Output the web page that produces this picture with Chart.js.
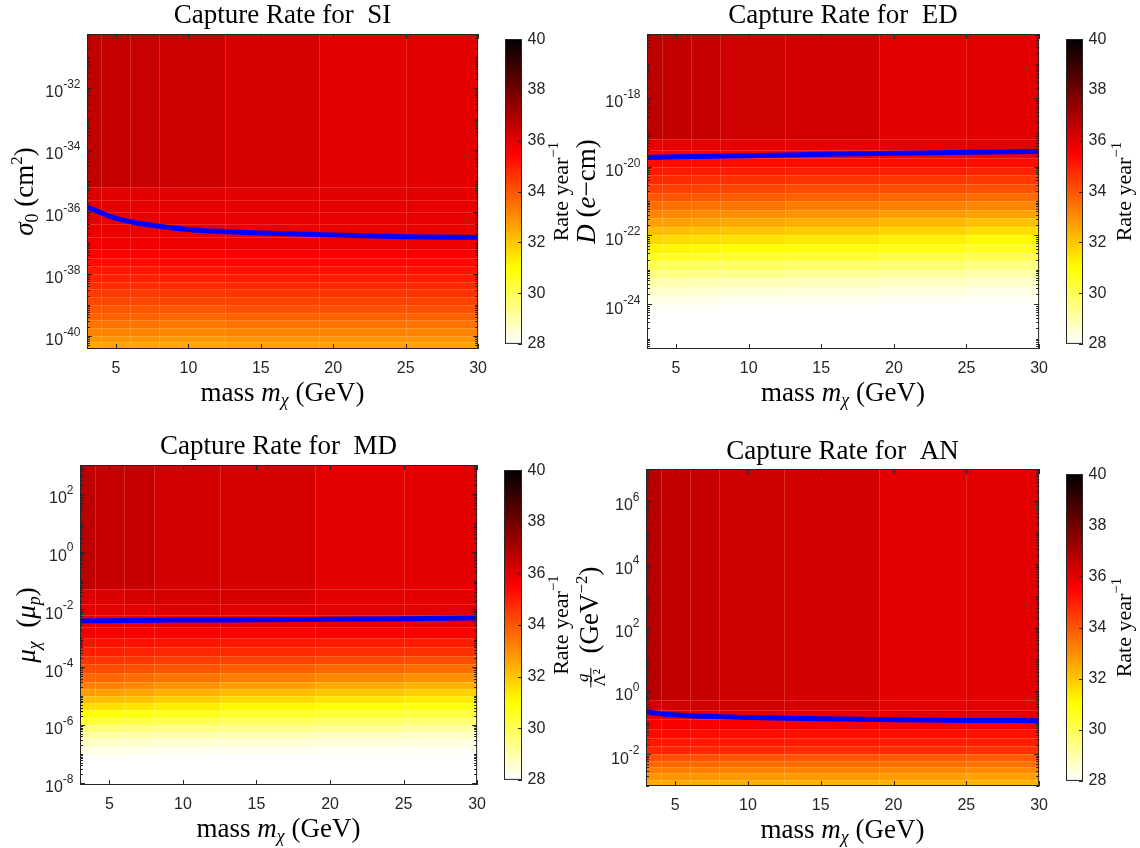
<!DOCTYPE html>
<html>
<head>
<meta charset="utf-8">
<script src="https://cdn.jsdelivr.net/npm/chart.js"></script>
<style>
  html, body { margin: 0; padding: 0; background: #fff; }
  #wrap { position: relative; width: 1140px; height: 848px; overflow: hidden; }
  canvas { position: absolute; }
</style>
</head>
<body>
<div id="wrap"></div>
<script>
// ---- data ----
// column edges of the rate grid (GeV) and x ticks
const massEdges = [3, 4, 6, 8, 12.5, 19, 25, 30];
const xTicks = [5, 10, 15, 20, 25, 30];
const cbTicks = [28, 30, 32, 34, 36, 38, 40];

// SI : sigma_0 (cm^2), row edges as log10, rates per row (top -> bottom)
const siRange = [-40.42, -30.26];
const siYTicks = [-40, -38, -36, -34, -32];
const siEdges = [-30.26, -35.2, -35.6, -36.0, -36.4, -36.8, -37.2, -37.5, -37.75, -38.0, -38.25,
                 -38.5, -38.75, -39.0, -39.25, -39.5, -39.75, -40.0, -40.2, -40.42];
const siRate = [
  [36.6, 36.5, 36.45, 36.38, 36.2, 35.97, 35.97],
  [36.1, 36.0, 36.0, 36.0, 36.0, 35.97, 35.96],
  [35.98, 35.95, 35.95, 35.95, 35.95, 35.95, 35.94],
  [35.9, 35.9, 35.9, 35.9, 35.92, 35.92, 35.92],
  [35.85, 35.85, 35.85, 35.85, 35.85, 35.86, 35.86],
  [35.75, 35.75, 35.75, 35.78, 35.8, 35.8, 35.8],
  [35.5, 35.5, 35.5, 35.55, 35.6, 35.6, 35.6],
  [35.3, 35.3, 35.3, 35.35, 35.4, 35.4, 35.4],
  [35.1, 35.1, 35.1, 35.15, 35.2, 35.2, 35.2],
  [34.9, 34.9, 34.9, 34.95, 35.0, 35.0, 35.0],
  [34.7, 34.7, 34.7, 34.75, 34.8, 34.8, 34.8],
  [34.5, 34.5, 34.5, 34.55, 34.6, 34.6, 34.6],
  [34.3, 34.3, 34.3, 34.3, 34.35, 34.35, 34.35],
  [34.0, 34.0, 34.0, 34.0, 34.1, 34.1, 34.1],
  [33.75, 33.75, 33.75, 33.7, 33.8, 33.8, 33.8],
  [33.45, 33.45, 33.45, 33.4, 33.5, 33.5, 33.5],
  [33.15, 33.15, 33.15, 33.1, 33.2, 33.2, 33.2],
  [32.85, 32.85, 32.85, 32.8, 32.9, 32.9, 32.9],
  [32.6, 32.6, 32.6, 32.55, 32.65, 32.65, 32.65]
];
const siLineMass = [3, 5, 7, 10, 15, 20, 25, 30];
const siLine = [1.45e-36, 6.2e-37, 4.0e-37, 2.7e-37, 2.1e-37, 1.8e-37, 1.6e-37, 1.5e-37];

// ED : D (e-cm)
const edRange = [-25.27, -16.14];
const edYTicks = [-24, -22, -20, -18];
const edEdges = [-16.14, -19.2, -19.5, -19.75, -20.0, -20.25, -20.5, -20.75, -21.0, -21.25, -21.5,
                 -21.75, -22.0, -22.25, -22.5, -22.75, -23.0, -23.25, -23.5, -23.75, -24.0, -24.25, -25.27];
const edRate = [
  [36.68, 36.52, 36.5, 36.35, 36.33, 35.97, 35.97],
  [35.9, 35.9, 35.9, 35.9, 35.9, 35.95, 35.95],
  [35.55, 35.55, 35.6, 35.6, 35.65, 35.65, 35.7],
  [35.3, 35.3, 35.3, 35.3, 35.3, 35.3, 35.3],
  [35.05, 35.05, 35.0, 35.0, 34.95, 34.95, 34.9],
  [34.75, 34.75, 34.7, 34.65, 34.6, 34.55, 34.5],
  [34.4, 34.4, 34.35, 34.3, 34.2, 34.15, 34.1],
  [34.0, 34.0, 33.95, 33.9, 33.8, 33.7, 33.65],
  [33.6, 33.55, 33.5, 33.45, 33.35, 33.25, 33.15],
  [33.15, 33.1, 33.05, 33.0, 32.9, 32.75, 32.65],
  [32.7, 32.65, 32.6, 32.5, 32.4, 32.25, 32.1],
  [32.2, 32.15, 32.1, 32.0, 31.9, 31.75, 31.6],
  [31.7, 31.65, 31.6, 31.5, 31.4, 31.25, 31.1],
  [31.2, 31.15, 31.1, 31.0, 30.9, 30.75, 30.6],
  [30.6, 30.55, 30.5, 30.45, 30.35, 30.2, 30.05],
  [30.0, 29.95, 29.9, 29.85, 29.75, 29.65, 29.5],
  [29.5, 29.45, 29.4, 29.35, 29.25, 29.15, 29.0],
  [29.0, 28.95, 28.9, 28.85, 28.8, 28.7, 28.6],
  [28.6, 28.6, 28.55, 28.5, 28.45, 28.4, 28.3],
  [28.3, 28.3, 28.25, 28.2, 28.2, 28.15, 28.1],
  [28.1, 28.1, 28.1, 28.05, 28.05, 28.0, 28.0],
  [28.0, 28.0, 28.0, 28.0, 28.0, 28.0, 28.0]
];
const edLineMass = [3, 5, 10, 15, 20, 25, 30];
const edLine = [1.86e-20, 1.95e-20, 2.09e-20, 2.29e-20, 2.45e-20, 2.63e-20, 2.75e-20];

// MD : mu_chi (mu_p)
const mdRange = [-8.08, 3];
const mdYTicks = [-8, -6, -4, -2, 0, 2];
const mdEdges = [3, -1.3, -1.8, -2.2, -2.6, -3.0, -3.3, -3.6, -3.9, -4.2, -4.5, -4.75, -5.0,
                 -5.25, -5.5, -5.75, -6.0, -6.25, -6.5, -6.75, -7.0, -7.25, -8.08];
const mdRate = [
  [36.68, 36.5, 36.5, 36.3, 36.25, 35.98, 35.98],
  [36.1, 36.1, 36.2, 36.25, 36.2, 35.98, 35.98],
  [35.95, 35.95, 36.0, 36.1, 36.05, 35.95, 35.95],
  [35.85, 35.85, 35.85, 35.85, 35.85, 35.85, 35.85],
  [35.6, 35.6, 35.6, 35.55, 35.55, 35.55, 35.5],
  [35.2, 35.2, 35.2, 35.15, 35.1, 35.05, 35.0],
  [34.95, 34.95, 34.9, 34.85, 34.8, 34.7, 34.65],
  [34.6, 34.6, 34.55, 34.45, 34.35, 34.25, 34.15],
  [34.2, 34.2, 34.1, 34.0, 33.85, 33.7, 33.6],
  [33.7, 33.7, 33.6, 33.45, 33.3, 33.1, 33.0],
  [33.2, 33.2, 33.1, 32.9, 32.7, 32.5, 32.35],
  [32.75, 32.7, 32.6, 32.4, 32.2, 32.0, 31.85],
  [32.2, 32.15, 32.05, 31.85, 31.65, 31.45, 31.3],
  [31.6, 31.55, 31.45, 31.3, 31.1, 30.9, 30.8],
  [30.95, 30.9, 30.8, 30.65, 30.5, 30.35, 30.25],
  [30.3, 30.25, 30.15, 30.05, 29.9, 29.8, 29.7],
  [29.65, 29.6, 29.55, 29.45, 29.35, 29.25, 29.15],
  [29.1, 29.05, 29.0, 28.95, 28.85, 28.75, 28.7],
  [28.65, 28.6, 28.55, 28.5, 28.45, 28.4, 28.35],
  [28.3, 28.3, 28.25, 28.2, 28.2, 28.15, 28.1],
  [28.1, 28.1, 28.05, 28.05, 28.0, 28.0, 28.0],
  [28.0, 28.0, 28.0, 28.0, 28.0, 28.0, 28.0]
];
const mdLineMass = [3, 5, 10, 15, 20, 25, 30];
const mdLine = [3.98e-3, 4.07e-3, 4.27e-3, 4.37e-3, 4.57e-3, 4.79e-3, 5.01e-3];

// AN : g / Lambda^2 (GeV^-2)
const anRange = [-3, 7];
const anYTicks = [-2, 0, 2, 4, 6];
const anEdges = [7, -0.3, -0.6, -0.9, -1.2, -1.5, -1.75, -2.0, -2.2, -2.4, -2.6, -2.8, -3.0];
const anRate = [
  [36.74, 36.56, 36.5, 36.38, 36.29, 35.98, 35.98],
  [36.3, 36.3, 36.3, 36.3, 36.25, 35.98, 35.98],
  [35.95, 35.95, 35.95, 35.95, 35.95, 35.95, 35.95],
  [35.6, 35.6, 35.6, 35.6, 35.6, 35.55, 35.55],
  [35.35, 35.35, 35.3, 35.3, 35.25, 35.25, 35.2],
  [35.1, 35.1, 35.05, 35.05, 35.0, 34.95, 34.95],
  [34.85, 34.85, 34.8, 34.75, 34.7, 34.7, 34.65],
  [34.1, 34.1, 34.05, 34.0, 34.0, 33.95, 33.9],
  [33.7, 33.7, 33.65, 33.6, 33.6, 33.55, 33.5],
  [33.3, 33.3, 33.25, 33.2, 33.2, 33.15, 33.1],
  [32.9, 32.9, 32.85, 32.8, 32.8, 32.75, 32.7],
  [32.5, 32.5, 32.45, 32.45, 32.4, 32.4, 32.35]
];
const anLineMass = [3, 4, 5, 7, 10, 15, 20, 25, 30];
const anLine = [0.219, 0.191, 0.174, 0.158, 0.145, 0.132, 0.123, 0.117, 0.115];

// colormap anchors (flipped "hot"): rate -> colour
const cmapVals = [28, 31, 35.5, 40];
const cmapRGB = [[255, 255, 255], [255, 255, 0], [255, 0, 0], [0, 0, 0]];

// ---- styling / layout ----
const SERIF = '"Liberation Serif", "Times New Roman", serif';
const SANS = '"Liberation Sans", Arial, Helvetica, sans-serif';
const INK = '#262626';
const BIG = 27;

const xTitle = [{t: 'mass '}, {t: 'm', it: true}, {t: 'χ', it: true, s: 18, dy: 5}, {t: ' (GeV)'}];

const panels = [
  {
    key: 'SI', title: 'Capture Rate for  SI', range: siRange, yTicks: siYTicks,
    edges: siEdges, rates: siRate, lineMass: siLineMass, line: siLine,
    box: {l: 87, t: 34, r: 483, b: 349}, cv: {l: 0, t: 0, w: 497, h: 420},
    titlePad: {top: 0, bottom: 1.6}, cb: {l: 505, r: 522}, cbLabelX: 559,
    yTitleX: 24,
    yTitle: [{t: 'σ', it: true}, {t: '0', s: 18, dy: 5}, {t: ' (cm'}, {t: '2', s: 17, dy: -11}, {t: ')'}]
  },
  {
    key: 'ED', title: 'Capture Rate for  ED', range: edRange, yTicks: edYTicks,
    edges: edEdges, rates: edRate, lineMass: edLineMass, line: edLine,
    box: {l: 647, t: 34, r: 1044, b: 349}, cv: {l: 560, t: 0, w: 498, h: 420},
    titlePad: {top: 0, bottom: 1.6}, cb: {l: 1066, r: 1083}, cbLabelX: 1122,
    yTitleX: 586,
    yTitle: [{t: 'D', it: true}, {t: ' ('}, {t: 'e', it: true}, {t: '−cm)'}]
  },
  {
    key: 'MD', title: 'Capture Rate for  MD', range: mdRange, yTicks: mdYTicks,
    edges: mdEdges, rates: mdRate, lineMass: mdLineMass, line: mdLine,
    box: {l: 80, t: 465, r: 482, b: 785}, cv: {l: 0, t: 425, w: 496, h: 423},
    titlePad: {top: 5.5, bottom: 2.1}, cb: {l: 504, r: 522}, cbLabelX: 559,
    yTitleX: 26,
    yTitle: [{t: 'μ', it: true}, {t: 'χ', it: true, s: 18, dy: 5}, {t: '  ('}, {t: 'μ', it: true},
             {t: 'p', it: true, s: 18, dy: 5}, {t: ')'}]
  },
  {
    key: 'AN', title: 'Capture Rate for  AN', range: anRange, yTicks: anYTicks,
    edges: anEdges, rates: anRate, lineMass: anLineMass, line: anLine,
    box: {l: 646, t: 469, r: 1044, b: 786}, cv: {l: 560, t: 425, w: 498, h: 423},
    titlePad: {top: 10.5, bottom: 1.1}, cb: {l: 1066, r: 1083}, cbLabelX: 1122,
    yTitleX: 589,
    yTitle: [{frac: true, num: 'g', den: 'Λ²'}, {t: '  (GeV'}, {t: '−2', s: 17, dy: -11}, {t: ')'}]
  }
];

// ---- helpers ----
function hot(v) {
  v = Math.max(cmapVals[0], Math.min(cmapVals[cmapVals.length - 1], v));
  let i = 0;
  while (i < cmapVals.length - 2 && v > cmapVals[i + 1]) i++;
  const f = (v - cmapVals[i]) / (cmapVals[i + 1] - cmapVals[i]);
  const a = cmapRGB[i], b = cmapRGB[i + 1];
  const c = a.map((x, k) => Math.round(x + (b[k] - x) * f));
  return `rgb(${c[0]},${c[1]},${c[2]})`;
}

function segFont(s) {
  return (s.it ? 'italic ' : '') + (s.s || BIG) + 'px ' + SERIF;
}

// mixed-font text, centred at (cx, cy), optionally rotated
function drawRich(ctx, segs, cx, cy, rot) {
  ctx.save();
  ctx.translate(cx, cy);
  ctx.rotate(rot || 0);
  ctx.fillStyle = '#000';
  ctx.strokeStyle = '#000';
  ctx.textAlign = 'left';
  ctx.textBaseline = 'alphabetic';
  const numFont = 'italic 17px ' + SERIF, denFont = '17px ' + SERIF;
  const widths = segs.map(s => {
    if (s.frac) {
      ctx.font = numFont; const a = ctx.measureText(s.num).width;
      ctx.font = denFont; const b = ctx.measureText(s.den).width;
      return Math.max(a, b) + 4;
    }
    ctx.font = segFont(s);
    return ctx.measureText(s.t).width;
  });
  const total = widths.reduce((a, b) => a + b, 0);
  const base = 8.8;
  let x = -total / 2;
  segs.forEach((s, i) => {
    if (s.frac) {
      const w = widths[i], lineY = base - 7;
      ctx.lineWidth = 1;
      ctx.beginPath(); ctx.moveTo(x + 1, lineY); ctx.lineTo(x + w - 1, lineY); ctx.stroke();
      ctx.textAlign = 'center';
      ctx.font = numFont; ctx.fillText(s.num, x + w / 2, lineY - 3);
      ctx.font = denFont; ctx.fillText(s.den, x + w / 2, lineY + 14);
      ctx.textAlign = 'left';
    } else {
      ctx.font = segFont(s);
      ctx.fillText(s.t, x, base + (s.dy || 0));
    }
    x += widths[i];
  });
  ctx.restore();
}

function addCanvas(c) {
  const el = document.createElement('canvas');
  el.width = c.w; el.height = c.h;
  el.style.left = c.l + 'px'; el.style.top = c.t + 'px';
  el.style.width = c.w + 'px'; el.style.height = c.h + 'px';
  document.getElementById('wrap').appendChild(el);
  return el;
}

// heat map cells, frame, ticks and labels of one panel
function panelPlugin(p) {
  return {
    id: 'panel' + p.key,
    beforeDatasetsDraw(chart) {
      const {ctx, chartArea: a, scales: {x, y}} = chart;
      ctx.save();
      ctx.beginPath(); ctx.rect(a.left, a.top, a.right - a.left, a.bottom - a.top); ctx.clip();
      p.rates.forEach((row, i) => {
        const y0 = Math.round(y.getPixelForValue(Math.pow(10, p.edges[i])));
        const y1 = Math.round(y.getPixelForValue(Math.pow(10, p.edges[i + 1])));
        row.forEach((v, j) => {
          const x0 = Math.round(x.getPixelForValue(massEdges[j]));
          const x1 = Math.round(x.getPixelForValue(massEdges[j + 1]));
          ctx.fillStyle = hot(v);
          ctx.fillRect(x0, y0, x1 - x0, y1 - y0);
        });
      });
      // faint contour edges
      ctx.strokeStyle = 'rgba(255,255,255,0.16)';
      ctx.lineWidth = 1;
      ctx.beginPath();
      p.edges.slice(1, -1).forEach(e => {
        const yy = Math.round(y.getPixelForValue(Math.pow(10, e))) + 0.5;
        ctx.moveTo(a.left, yy); ctx.lineTo(a.right, yy);
      });
      massEdges.slice(1, -1).forEach(m => {
        const xx = Math.round(x.getPixelForValue(m)) + 0.5;
        ctx.moveTo(xx, a.top); ctx.lineTo(xx, a.bottom);
      });
      ctx.stroke();
      ctx.restore();
    },
    afterDraw(chart) {
      const {ctx, chartArea: a, scales: {x, y}} = chart;
      ctx.save();
      ctx.strokeStyle = INK;
      ctx.lineWidth = 1;
      ctx.strokeRect(a.left + 0.5, a.top + 0.5, a.right - a.left - 1, a.bottom - a.top - 1);
      ctx.beginPath();
      xTicks.forEach(v => {
        const xx = Math.round(x.getPixelForValue(v)) + 0.5;
        ctx.moveTo(xx, a.bottom); ctx.lineTo(xx, a.bottom - 5);
        ctx.moveTo(xx, a.top); ctx.lineTo(xx, a.top + 5);
      });
      for (let d = Math.floor(p.range[0]); d <= Math.ceil(p.range[1]); d++) {
        for (let k = 1; k <= 9; k++) {
          const e = d + Math.log10(k);
          if (e < p.range[0] || e > p.range[1]) continue;
          const len = (k === 1 && p.yTicks.includes(d)) ? 5 : 3;
          const yy = Math.round(y.getPixelForValue(Math.pow(10, e))) + 0.5;
          ctx.moveTo(a.left, yy); ctx.lineTo(a.left + len, yy);
          ctx.moveTo(a.right, yy); ctx.lineTo(a.right - len, yy);
        }
      }
      ctx.stroke();
      // y tick labels 10^n
      ctx.fillStyle = INK;
      ctx.textBaseline = 'middle';
      p.yTicks.forEach(e => {
        const yy = y.getPixelForValue(Math.pow(10, e));
        const right = a.left - 6.5;
        ctx.font = '12px ' + SANS;
        const expText = String(e);
        const ew = ctx.measureText(expText).width;
        ctx.textAlign = 'left';
        ctx.fillText(expText, right - ew, yy - 3.5);
        ctx.font = '16px ' + SANS;
        ctx.textAlign = 'right';
        ctx.fillText('10', right - ew, yy + 5);
      });
      ctx.restore();
      const cx = (a.left + a.right) / 2;
      drawRich(ctx, xTitle, cx, a.bottom + 43, 0);
      drawRich(ctx, p.yTitle, p.yTitleX - p.cv.l, (a.top + a.bottom) / 2, -Math.PI / 2);
    }
  };
}

function colorbarPlugin(p) {
  return {
    id: 'cb' + p.key,
    afterDraw(chart) {
      const {ctx, chartArea: a, scales: {y}} = chart;
      ctx.save();
      ctx.strokeStyle = INK;
      ctx.lineWidth = 1;
      ctx.strokeRect(a.left + 0.5, a.top + 0.5, a.right - a.left - 1, a.bottom - a.top - 1);
      ctx.beginPath();
      cbTicks.forEach(v => {
        const yy = Math.round(y.getPixelForValue(v)) + 0.5;
        ctx.moveTo(a.right, yy); ctx.lineTo(a.right - 4, yy);
      });
      ctx.stroke();
      ctx.restore();
      drawRich(ctx, [{t: 'Rate year', s: 22}, {t: '−1', s: 15, dy: -10}],
               p.cbLabelX - (p.cb.l - 2), (a.top + a.bottom) / 2, -Math.PI / 2);
    }
  };
}

Chart.defaults.font.family = SANS;
Chart.defaults.color = INK;

panels.forEach(p => {
  // main contour panel
  const cv = addCanvas(p.cv);
  new Chart(cv, {
    type: 'scatter',
    data: {
      datasets: [{
        data: p.lineMass.map((m, i) => ({x: m, y: p.line[i]})),
        showLine: true,
        borderColor: '#0000ff',
        backgroundColor: '#0000ff',
        borderWidth: 5,
        pointRadius: 0,
        tension: 0.4,
        cubicInterpolationMode: 'monotone'
      }]
    },
    options: {
      responsive: false,
      animation: false,
      devicePixelRatio: 1,
      layout: {padding: {left: 0, top: 0, bottom: 0, right: p.cv.l + p.cv.w - p.box.r}},
      plugins: {
        legend: {display: false},
        tooltip: {enabled: false},
        title: {
          display: true, text: p.title, fullSize: false, color: '#000',
          font: {family: SERIF, size: BIG, weight: 'normal'},
          padding: p.titlePad
        }
      },
      scales: {
        x: {
          type: 'linear', min: 3, max: 30,
          grid: {display: false, drawTicks: false}, border: {display: false},
          ticks: {font: {family: SANS, size: 16}, color: INK, padding: 10, maxRotation: 0, autoSkip: false},
          afterBuildTicks: s => { s.ticks = xTicks.map(v => ({value: v})); },
          afterFit: s => { s.height = p.cv.t + p.cv.h - p.box.b; }
        },
        y: {
          type: 'logarithmic',
          min: Math.pow(10, p.range[0]), max: Math.pow(10, p.range[1]),
          grid: {display: false, drawTicks: false}, border: {display: false},
          ticks: {display: false},
          afterFit: s => { s.width = p.box.l - p.cv.l; }
        }
      }
    },
    plugins: [panelPlugin(p)]
  });

  // colour bar
  const cbBox = {l: p.cb.l - 2, t: p.box.t - 10, w: Math.min(80, 1140 - (p.cb.l - 2)), h: p.box.b - p.box.t + 20};
  const cbv = addCanvas(cbBox);
  new Chart(cbv, {
    type: 'bar',
    data: {
      labels: [''],
      datasets: [{
        data: [[cbTicks[0], cbTicks[cbTicks.length - 1]]],
        borderWidth: 0,
        categoryPercentage: 1,
        barPercentage: 1,
        backgroundColor: c => {
          const ch = c.chart, ys = ch.scales.y;
          if (!ys || !ch.chartArea) return '#ff0000';
          const g = ch.ctx.createLinearGradient(0, ys.getPixelForValue(28), 0, ys.getPixelForValue(40));
          cmapVals.forEach((v, i) => {
            const [r, gg, b] = cmapRGB[i];
            g.addColorStop((v - 28) / 12, `rgb(${r},${gg},${b})`);
          });
          return g;
        }
      }]
    },
    options: {
      responsive: false,
      animation: false,
      devicePixelRatio: 1,
      layout: {padding: {left: 2, top: 10, bottom: 10, right: 0}},
      plugins: {legend: {display: false}, tooltip: {enabled: false}},
      scales: {
        x: {display: false},
        y: {
          position: 'right', min: 28, max: 40,
          grid: {display: false, drawTicks: false}, border: {display: false},
          ticks: {font: {family: SANS, size: 16}, color: INK, padding: 5.5},
          afterBuildTicks: s => { s.ticks = cbTicks.map(v => ({value: v})); },
          afterFit: s => { s.width = cbBox.w - 2 - (p.cb.r - p.cb.l); }
        }
      }
    },
    plugins: [colorbarPlugin(p)]
  });
});
</script>
</body>
</html>
